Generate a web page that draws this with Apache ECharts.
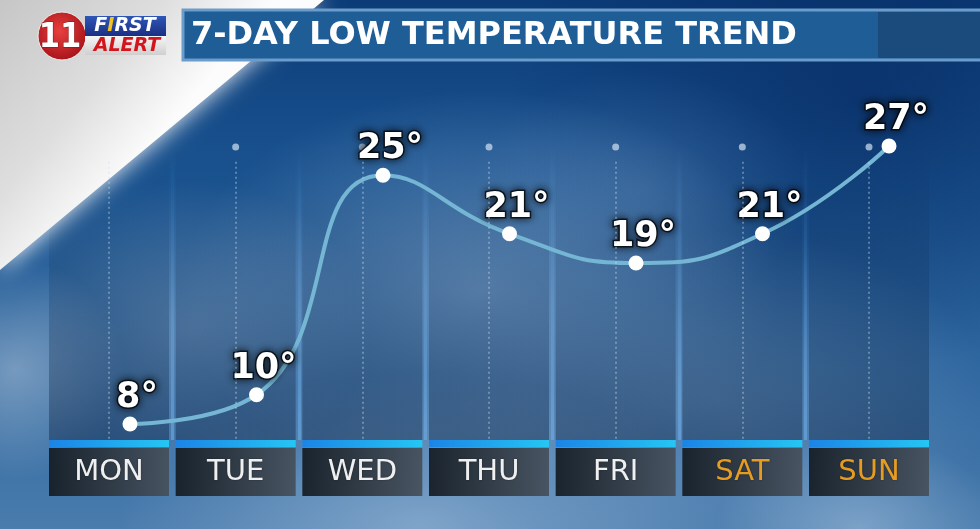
<!DOCTYPE html>
<html>
<head>
<meta charset="utf-8">
<title>7-Day Low Temperature Trend</title>
<script src="https://cdn.jsdelivr.net/npm/echarts@6/dist/echarts.min.js"></script>
<style>
    html,body{margin:0;padding:0;background:#1d5590;}
    #chart{width:980px;height:529px;}
</style>
</head>
<body>
<div id="chart"></div>
<script>
    // data
    var days = ['MON', 'TUE', 'WED', 'THU', 'FRI', 'SAT', 'SUN'];
    var lows = [8, 10, 25, 21, 19, 21, 27];
    var weekend = ['SAT', 'SUN'];
    var titleText = '7-DAY LOW TEMPERATURE TREND';

    var ones = days.map(function () { return 1; });
    // boundaries between neighbouring days (MON|TUE ... SAT|SUN)
    var joins = days.slice(1).map(function (d, i) { return days[i] + '|' + d; });
    var colLeft = 45.67, colWidth = 886.67, colStep = colWidth / days.length;

    function cloud(x, y, r, sx, alpha, rgb) {
        return {
            type: 'circle', z: -90, silent: true,
            shape: {cx: 0, cy: 0, r: r},
            x: x, y: y, scaleX: sx, scaleY: 1,
            style: {
                fill: {
                    type: 'radial', x: 0.5, y: 0.5, r: 0.5,
                    colorStops: [
                        {offset: 0, color: 'rgba(' + rgb + ',' + alpha + ')'},
                        {offset: 1, color: 'rgba(' + rgb + ',0)'}
                    ]
                }
            }
        };
    }

    var chart = echarts.init(document.getElementById('chart'));

    var option = {
        animation: false,
        graphic: {
            elements: [
                // sky
                {
                    type: 'rect', z: -100, silent: true,
                    shape: {x: 0, y: 0, width: 980, height: 529},
                    style: {
                        fill: {
                            type: 'linear', x: 0, y: 0, x2: 0, y2: 1,
                            colorStops: [
                                {offset: 0, color: '#0b3c78'},
                                {offset: 0.35, color: '#1b5592'},
                                {offset: 0.7, color: '#2f679f'},
                                {offset: 1, color: '#4a7cad'}
                            ]
                        }
                    }
                },
                cloud(860, 100, 270, 1.3, 0.55, '4,35,90'),
                cloud(480, 290, 200, 1.5, 0.45, '175,200,228'),
                cloud(190, 330, 150, 1.2, 0.4, '170,195,222'),
                cloud(720, 400, 170, 1.6, 0.35, '160,190,222'),
                cloud(420, 525, 150, 2.0, 0.5, '180,205,230'),
                cloud(860, 528, 90, 1.6, 0.45, '180,205,230'),
                cloud(15, 370, 110, 1.0, 0.5, '190,205,222'),
                cloud(640, 190, 120, 1.4, 0.25, '120,160,205'),
                // white panel upper left
                {
                    type: 'polygon', z: 1.5, silent: true,
                    shape: {points: [[0, 0], [324, 0], [0, 270]]},
                    style: {
                        fill: {
                            type: 'linear', x: 0, y: 0, x2: 1, y2: 1,
                            colorStops: [
                                {offset: 0, color: '#c6c6c6'},
                                {offset: 0.3, color: '#dedede'},
                                {offset: 0.5, color: '#fcfcfc'}
                            ]
                        },
                        shadowBlur: 24,
                        shadowColor: 'rgba(255,255,255,0.95)'
                    }
                },
                // title bar
                {
                    type: 'rect', z: 5, silent: true,
                    shape: {x: 183, y: 10, width: 810, height: 50},
                    style: {fill: '#1f5d97', stroke: '#6a9ccc', lineWidth: 3}
                },
                {
                    type: 'rect', z: 5, silent: true,
                    shape: {x: 878, y: 12, width: 110, height: 46},
                    style: {fill: '#1a4b7c'}
                },
                {
                    type: 'text', z: 6, silent: true,
                    x: 191, y: 36,
                    style: {
                        text: titleText,
                        font: 'bold 32px "DejaVu Sans"',
                        fill: '#ffffff',
                        textVerticalAlign: 'middle'
                    }
                },
                // logo
                {
                    type: 'circle', z: 5, silent: true,
                    shape: {cx: 62, cy: 36, r: 24},
                    style: {
                        fill: {
                            type: 'radial', x: 0.45, y: 0.4, r: 0.6,
                            colorStops: [
                                {offset: 0, color: '#e8403f'},
                                {offset: 1, color: '#a8141a'}
                            ]
                        },
                        stroke: '#eeeeee', lineWidth: 1
                    }
                },
                {
                    type: 'text', z: 6, silent: true,
                    x: 60, y: 38,
                    style: {
                        text: '11',
                        font: 'bold 34px "DejaVu Sans Condensed", "DejaVu Sans"',
                        fill: '#ffffff',
                        stroke: '#8a0f14', lineWidth: 1,
                        textAlign: 'center', textVerticalAlign: 'middle'
                    }
                },
                {
                    type: 'rect', z: 6, silent: true,
                    shape: {x: 85, y: 16, width: 81, height: 20},
                    style: {
                        fill: {
                            type: 'linear', x: 0, y: 0, x2: 0, y2: 1,
                            colorStops: [
                                {offset: 0, color: '#2f56b8'},
                                {offset: 1, color: '#1b2f82'}
                            ]
                        }
                    }
                },
                {
                    type: 'rect', z: 6, silent: true,
                    shape: {x: 85, y: 36, width: 81, height: 19},
                    style: {
                        fill: {
                            type: 'linear', x: 0, y: 0, x2: 0, y2: 1,
                            colorStops: [
                                {offset: 0, color: '#f6f6f6'},
                                {offset: 1, color: '#cfcfcf'}
                            ]
                        }
                    }
                },
                {
                    type: 'text', z: 7, silent: true,
                    x: 125, y: 26,
                    style: {
                        text: '{w|F}{y|I}{w|RST}',
                        textAlign: 'center', textVerticalAlign: 'middle',
                        rich: {
                            w: {font: 'italic bold 19px "DejaVu Sans"', fill: '#ffffff'},
                            y: {font: 'italic bold 19px "DejaVu Sans"', fill: '#f6c21c'}
                        }
                    }
                },
                {
                    type: 'text', z: 7, silent: true,
                    x: 127, y: 46,
                    style: {
                        text: 'ALERT',
                        font: 'italic bold 19px "DejaVu Sans"',
                        fill: '#d3161c',
                        textAlign: 'center', textVerticalAlign: 'middle'
                    }
                }
            ]
        },
        grid: [
            {left: 130, right: 91, top: 146, bottom: 105},
            {left: colLeft, width: colWidth, top: 147, height: 293},
            {left: colLeft, width: colWidth, top: 440, height: 7},
            {left: colLeft, width: colWidth, top: 448, height: 48},
            {left: colLeft + colStep, width: colStep * (joins.length - 1), top: 147, height: 293}
        ],
        xAxis: [
            {type: 'category', gridIndex: 0, data: days, boundaryGap: false, show: false},
            {type: 'category', gridIndex: 1, data: days, show: false},
            {type: 'category', gridIndex: 2, data: days, show: false},
            {type: 'category', gridIndex: 3, data: days, show: false},
            {
                // thin separators between the day columns
                type: 'category', gridIndex: 4, data: joins, boundaryGap: false,
                axisLine: {show: false}, axisTick: {show: false}, axisLabel: {show: false},
                splitLine: {
                    show: true,
                    interval: 0,
                    lineStyle: {
                        width: 3,
                        color: {
                            type: 'linear', x: 0, y: 147, x2: 0, y2: 440, global: true,
                            colorStops: [
                                {offset: 0, color: 'rgba(110,175,235,0)'},
                                {offset: 0.35, color: 'rgba(110,175,235,0.12)'},
                                {offset: 1, color: 'rgba(110,175,235,0.55)'}
                            ]
                        }
                    }
                }
            }
        ],
        yAxis: [
            {type: 'value', gridIndex: 0, min: 8, max: 27, show: false},
            {type: 'value', gridIndex: 1, min: 0, max: 1, show: false},
            {type: 'value', gridIndex: 2, min: 0, max: 1, show: false},
            {type: 'value', gridIndex: 3, min: 0, max: 1, show: false},
            {type: 'value', gridIndex: 4, min: 0, max: 1, show: false}
        ],
        series: [
            {
                // tinted day columns
                type: 'bar', xAxisIndex: 1, yAxisIndex: 1, z: 1, silent: true,
                data: ones, barWidth: 120,
                itemStyle: {
                    color: {
                        type: 'linear', x: 0, y: 0, x2: 0, y2: 1,
                        colorStops: [
                            {offset: 0, color: 'rgba(8,28,58,0)'},
                            {offset: 0.5, color: 'rgba(8,28,58,0.18)'},
                            {offset: 1, color: 'rgba(8,28,58,0.4)'}
                        ]
                    }
                },
                markLine: {
                    silent: true,
                    symbol: ['none', 'none'],
                    label: {show: false},
                    lineStyle: {color: 'rgba(205,222,240,0.5)', width: 1.5, type: [2, 3]},
                    data: days.map(function (d) {
                        return [{coord: [d, 0.95]}, {coord: [d, 0]}];
                    })
                }
            },
            {
                type: 'scatter', xAxisIndex: 1, yAxisIndex: 1, z: 1, silent: true, clip: false,
                data: days.map(function (d) { return [d, 1]; }),
                symbolSize: 7,
                itemStyle: {color: 'rgba(215,230,245,0.85)'}
            },
            {
                // blue strip above each day box
                type: 'bar', xAxisIndex: 2, yAxisIndex: 2, silent: true,
                data: ones, barWidth: 120,
                itemStyle: {
                    color: {
                        type: 'linear', x: 0, y: 0, x2: 1, y2: 0,
                        colorStops: [
                            {offset: 0, color: '#1b84e6'},
                            {offset: 1, color: '#26c6f4'}
                        ]
                    }
                }
            },
            {
                // day boxes
                type: 'bar', xAxisIndex: 3, yAxisIndex: 3, silent: true,
                barWidth: 120,
                data: days.map(function (d) {
                    return {
                        value: 1,
                        label: {color: weekend.indexOf(d) >= 0 ? '#f5a520' : '#ffffff'}
                    };
                }),
                itemStyle: {
                    opacity: 0.93,
                    color: {
                        type: 'linear', x: 0, y: 0, x2: 1, y2: 0,
                        colorStops: [
                            {offset: 0, color: '#151c23'},
                            {offset: 1, color: '#46505b'}
                        ]
                    }
                },
                label: {
                    show: true,
                    position: 'inside',
                    formatter: '{b}',
                    fontFamily: 'DejaVu Sans',
                    fontSize: 29,
                    textShadowColor: 'rgba(0,0,0,0.4)',
                    textShadowBlur: 2
                }
            },
            {
                name: 'Low',
                type: 'line', xAxisIndex: 0, yAxisIndex: 0, z: 3,
                data: lows,
                smooth: 0.5,
                symbol: 'circle',
                symbolSize: 15,
                lineStyle: {color: '#74b6d4', width: 4},
                itemStyle: {color: '#ffffff'},
                label: {
                    show: true,
                    position: 'top',
                    distance: 1,
                    offset: [7, 0],
                    formatter: '{c}°',
                    color: '#ffffff',
                    fontFamily: 'DejaVu Sans',
                    fontWeight: 'bold',
                    fontSize: 35,
                    textBorderColor: 'rgba(0,0,0,0.7)',
                    textBorderWidth: 3,
                    textShadowColor: 'rgba(0,0,0,0.8)',
                    textShadowBlur: 8
                }
            }
        ]
    };

    chart.setOption(option);
    window.addEventListener('resize', chart.resize);
</script>
</body>
</html>
